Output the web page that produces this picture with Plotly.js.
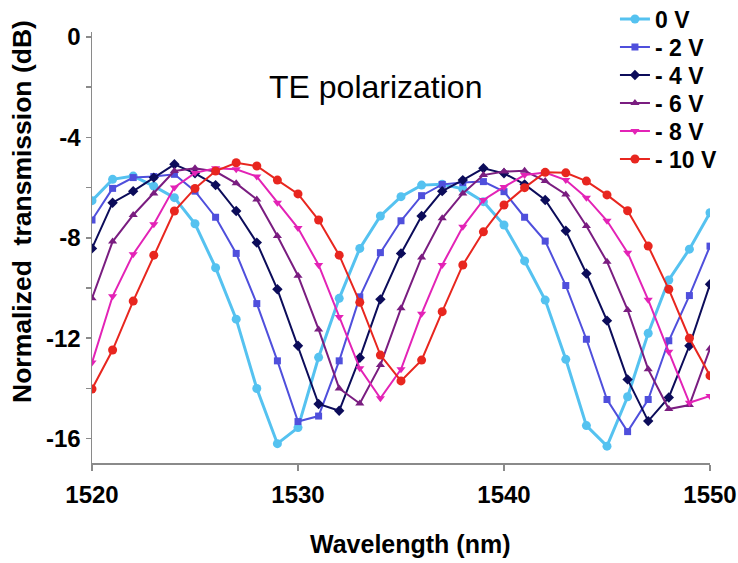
<!DOCTYPE html>
<html>
<head>
<meta charset="utf-8">
<script src="https://cdn.plot.ly/plotly-3.0.1.min.js"></script>
<style>html,body{margin:0;padding:0;background:#fff}#chart{width:738px;height:563px}</style>
</head>
<body>
<div id="chart"></div>
<script>
// Wavelength grid (nm), 1 nm steps from 1520 to 1550
const wavelength = [1520,1521,1522,1523,1524,1525,1526,1527,1528,1529,1530,1531,1532,1533,1534,1535,1536,1537,1538,1539,1540,1541,1542,1543,1544,1545,1546,1547,1548,1549,1550];

const seriesNames = ["0 V", "- 2 V", "- 4 V", "- 6 V", "- 8 V", "- 10 V"];

const t0V  = [-6.52,-5.67,-5.54,-5.94,-6.40,-7.44,-9.19,-11.24,-14.00,-16.20,-15.56,-12.76,-10.41,-8.42,-7.13,-6.36,-5.90,-5.87,-6.05,-6.56,-7.49,-8.92,-10.48,-12.84,-15.48,-16.30,-14.33,-11.80,-9.68,-8.45,-7.00];
const t2V  = [-7.29,-6.03,-5.60,-5.56,-5.47,-6.14,-7.18,-8.62,-10.62,-12.90,-15.32,-15.10,-12.90,-10.35,-8.59,-7.32,-6.32,-5.87,-5.80,-5.76,-6.16,-7.18,-8.13,-9.90,-12.04,-14.44,-15.72,-14.44,-12.10,-10.30,-8.33];
const t4V  = [-8.42,-6.60,-6.14,-5.60,-5.07,-5.43,-5.90,-6.93,-8.19,-10.05,-12.30,-14.62,-14.89,-12.78,-10.45,-8.62,-7.13,-6.14,-5.70,-5.23,-5.43,-5.87,-6.49,-7.72,-9.42,-11.30,-13.64,-15.30,-14.36,-12.30,-9.85];
const t6V  = [-10.41,-8.15,-7.09,-6.23,-5.34,-5.23,-5.36,-5.83,-6.47,-7.93,-9.51,-11.65,-14.00,-14.60,-13.07,-10.81,-8.78,-7.22,-6.23,-5.50,-5.36,-5.33,-5.74,-6.27,-7.53,-8.95,-10.87,-13.24,-14.82,-14.66,-12.41];
const t8V  = [-12.97,-10.33,-8.65,-7.46,-5.99,-5.41,-5.23,-5.27,-5.56,-6.60,-7.61,-9.08,-11.15,-13.20,-14.39,-13.24,-11.02,-9.08,-7.56,-6.49,-5.97,-5.50,-5.40,-5.70,-6.40,-7.32,-8.59,-10.47,-12.54,-14.57,-14.30];
const t10V = [-14.02,-12.47,-10.52,-8.69,-6.93,-6.03,-5.34,-5.01,-5.14,-5.70,-6.25,-7.29,-8.69,-10.57,-12.67,-13.70,-12.87,-10.94,-9.08,-7.76,-6.69,-6.00,-5.39,-5.41,-5.74,-6.29,-6.92,-8.33,-10.05,-12.00,-13.49];

const xTickVals = [1520, 1530, 1540, 1550];
const yTickVals = [0, -4, -8, -12, -16];

const allSeries = [t0V, t2V, t4V, t6V, t8V, t10V];
const colors  = ["#55c2f0", "#4f4fdc", "#0c0c5a", "#7a1d80", "#e323b6", "#e8261f"];
const symbols = ["circle", "square", "diamond", "triangle-up", "triangle-down", "circle"];
const msizes  = [9, 7, 8, 8, 8, 9];
const lwidths = [3, 2, 2, 2, 2, 2];
// legend row centres (pixels from top)
const legendRowPx = [19, 47, 75, 103, 131, 159];

const FONT = "Liberation Sans, Arial, Helvetica, sans-serif";
const PLOT_TOP = 32, PLOT_BOTTOM = 463;
const pyToPaper = py => (PLOT_BOTTOM - py) / (PLOT_BOTTOM - PLOT_TOP);

const traces = allSeries.map((ys, i) => ({
  x: wavelength, y: ys, name: seriesNames[i],
  type: "scatter", mode: "lines+markers",
  line: {color: colors[i], width: lwidths[i]},
  marker: {color: colors[i], symbol: symbols[i], size: msizes[i], line: {width: 0}},
  legend: i === 0 ? "legend" : "legend" + (i + 1)
}));

const layout = {
  width: 738, height: 563,
  margin: {l: 92, r: 28, t: PLOT_TOP, b: 563 - PLOT_BOTTOM, autoexpand: false},
  paper_bgcolor: "#fff", plot_bgcolor: "#fff",
  font: {family: FONT, color: "#000"},
  showlegend: true,
  xaxis: {
    range: [1520, 1550], tickvals: xTickVals, ticktext: xTickVals.map(String),
    showgrid: false, zeroline: false, showline: true, linecolor: "#8a8a8a", linewidth: 1.5,
    ticks: "outside", ticklen: 6, tickwidth: 1.5, tickcolor: "#8a8a8a",
    tickfont: {family: FONT, size: 24, color: "#000", weight: "bold"},
    ticklabelstandoff: 4, automargin: false
  },
  yaxis: {
    range: [-16.97, 0.2], tickvals: yTickVals, ticktext: yTickVals.map(String),
    showgrid: false, zeroline: false, showline: true, linecolor: "#8a8a8a", linewidth: 1.5,
    ticks: "outside", ticklen: 5, tickwidth: 1.5, tickcolor: "#8a8a8a",
    tickfont: {family: FONT, size: 24, color: "#000", weight: "bold"},
    automargin: false,
    minor: {tickvals: [-2, -6, -10, -14], ticks: "outside", ticklen: 5, tickwidth: 1.5, tickcolor: "#8a8a8a", showgrid: false}
  },
  annotations: [
    {text: "TE polarization", xref: "paper", yref: "paper", x: 0.4595, y: pyToPaper(87),
     xanchor: "center", yanchor: "middle", showarrow: false,
     font: {family: FONT, size: 32, color: "#000"}},
    {text: "Wavelength (nm)", xref: "paper", yref: "paper", x: 0.5146, y: pyToPaper(544),
     xanchor: "center", yanchor: "middle", showarrow: false,
     font: {family: FONT, size: 25, color: "#000", weight: "bold"}},
    {text: "Normalized\u00a0\u00a0transmission (dB)", xref: "paper", yref: "paper", x: -0.1133, y: pyToPaper(211),
     xanchor: "center", yanchor: "middle", showarrow: false, textangle: -90,
     font: {family: FONT, size: 26.5, color: "#000", weight: "bold"}}
  ]
};

legendRowPx.forEach((py, i) => {
  const key = i === 0 ? "legend" : "legend" + (i + 1);
  layout[key] = {
    x: 0.8462, y: pyToPaper(py), xanchor: "left", yanchor: "middle",
    bgcolor: "rgba(0,0,0,0)", borderwidth: 0,
    font: {family: FONT, size: 23, color: "#000", weight: "bold"},
    itemwidth: 30
  };
});

Plotly.newPlot("chart", traces, layout, {displayModeBar: false, staticPlot: true});
</script>
</body>
</html>
